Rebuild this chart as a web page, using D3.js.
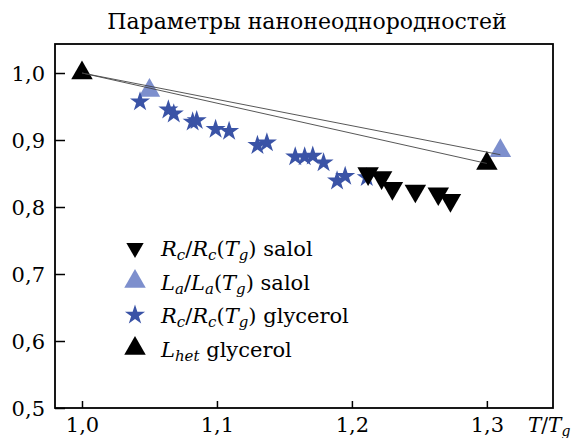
<!DOCTYPE html>
<html>
<head>
<meta charset="utf-8">
<script src="https://cdn.jsdelivr.net/npm/d3@7"></script>
<style>
  body { margin: 0; background: #fff; }
  svg text { font-family: "DejaVu Serif", "Times New Roman", serif; fill: #000; }
</style>
</head>
<body>
<div id="chart"></div>
<script>
var salolRcX = [1.212, 1.222, 1.230, 1.247, 1.264, 1.273];
var salolRcY = [0.850, 0.844, 0.828, 0.824, 0.820, 0.810];

var salolLaX = [1.05, 1.31];
var salolLaY = [0.974, 0.884];

var glyRcX = [1.043, 1.064, 1.068, 1.082, 1.085, 1.099, 1.109, 1.130, 1.137,
              1.158, 1.165, 1.171, 1.179, 1.189, 1.195, 1.211];
var glyRcY = [0.957, 0.945, 0.939, 0.927, 0.929, 0.916, 0.913, 0.892, 0.896,
              0.875, 0.875, 0.876, 0.866, 0.839, 0.846, 0.844];

var lhetX = [1.0, 1.3];
var lhetY = [1.0, 0.865];

// two straight guide lines from the origin point
var fitLines = [
  [[1.0, 1.0], [1.3, 0.865]],
  [[1.0, 1.0], [1.31, 0.878]]
];

var xTicks = [1.0, 1.1, 1.2, 1.3];
var yTicks = [0.5, 0.6, 0.7, 0.8, 0.9, 1.0];

var svgWidth = 584;
var svgHeight = 438;
var margin = { top: 44, right: 31, bottom: 30, left: 55 };
var width = svgWidth - margin.left - margin.right;
var height = svgHeight - margin.top - margin.bottom;

var darkBlue = "#3a53a6";
var lightBlue = "#7d8fcd";

var svg = d3.select("#chart")
  .append("svg")
  .attr("width", svgWidth)
  .attr("height", svgHeight);

svg.append("text")
  .attr("x", 307)
  .attr("y", 29)
  .attr("text-anchor", "middle")
  .attr("font-size", "22px")
  .text("Параметры нанонеоднородностей");

var chartGroup = svg.append("g")
  .attr("transform", `translate(${margin.left}, ${margin.top})`);

var x = d3.scaleLinear().domain([0.98, 1.349]).range([0, width]);
var y = d3.scaleLinear().domain([0.5, 1.0433]).range([height, 0]);

var comma = d => d3.format(".1f")(d).replace(".", ",");

var xAxis = chartGroup.append("g")
  .attr("transform", `translate(0, ${height})`)
  .call(d3.axisBottom(x).tickValues(xTicks).tickSize(-7).tickPadding(24).tickFormat(comma));

var yAxis = chartGroup.append("g")
  .call(d3.axisLeft(y).tickValues(yTicks).tickSize(-10).tickPadding(10).tickFormat(comma));

[xAxis, yAxis].forEach(function(ax) {
  ax.attr("font-family", null);
  ax.select(".domain").remove();
  ax.selectAll("line").attr("stroke", "#000").attr("stroke-width", 1.5);
  ax.selectAll("text").attr("font-size", "21px");
});
yAxis.selectAll("text").attr("dy", "0.36em");
xAxis.selectAll("text").attr("dy", 0);

// frame
chartGroup.append("rect")
  .attr("width", width)
  .attr("height", height)
  .attr("fill", "none")
  .attr("stroke", "#000")
  .attr("stroke-width", 1.8);

// x axis label
var xl = svg.append("text")
  .attr("x", 528)
  .attr("y", 432)
  .attr("font-size", "20px");
xl.append("tspan").attr("font-style", "italic").text("T");
xl.append("tspan").text("/");
xl.append("tspan").attr("font-style", "italic").text("T");
xl.append("tspan").attr("font-style", "italic").attr("font-size", "14px").attr("dy", 4).text("g");

var triUp = d3.symbol().type(d3.symbolTriangle).size(200);
var star = d3.symbol().type(d3.symbolStar).size(125);

function zip(xs, ys) {
  return xs.map((v, i) => ({ x: v, y: ys[i] }));
}

chartGroup.selectAll(".lhet")
  .data(zip(lhetX, lhetY))
  .enter()
  .append("path")
  .attr("d", triUp)
  .attr("transform", d => `translate(${x(d.x)}, ${y(d.y)})`)
  .attr("fill", "#000");

chartGroup.selectAll(".la")
  .data(zip(salolLaX, salolLaY))
  .enter()
  .append("path")
  .attr("d", triUp)
  .attr("transform", d => `translate(${x(d.x)}, ${y(d.y)})`)
  .attr("fill", lightBlue);

chartGroup.selectAll(".star")
  .data(zip(glyRcX, glyRcY))
  .enter()
  .append("path")
  .attr("d", star)
  .attr("transform", d => `translate(${x(d.x)}, ${y(d.y)})`)
  .attr("fill", darkBlue);

chartGroup.selectAll(".rc")
  .data(zip(salolRcX, salolRcY))
  .enter()
  .append("path")
  .attr("d", triUp)
  .attr("transform", d => `translate(${x(d.x)}, ${y(d.y)}) rotate(180)`)
  .attr("fill", "#000");

var line = d3.line().x(d => x(d[0])).y(d => y(d[1]));
chartGroup.selectAll(".fit")
  .data(fitLines)
  .enter()
  .append("path")
  .attr("d", line)
  .attr("fill", "none")
  .attr("stroke", "#444")
  .attr("stroke-width", 0.9);

// legend
var legend = [
  { sym: "down", fill: "#000", a: "R", as: "c", tail: "salol" },
  { sym: "up", fill: lightBlue, a: "L", as: "a", tail: "salol" },
  { sym: "star", fill: darkBlue, a: "R", as: "c", tail: "glycerol" },
  { sym: "het", fill: "#000", a: "L", as: "het", tail: "glycerol" }
];

var legendGroup = svg.append("g");
legend.forEach(function(item, i) {
  var ly = 248 + i * 33.5;
  var path = legendGroup.append("path")
    .attr("fill", item.fill);
  if (item.sym === "star") {
    path.attr("d", star).attr("transform", `translate(135, ${ly})`);
  } else if (item.sym === "down") {
    path.attr("d", d3.symbol().type(d3.symbolTriangle).size(130))
      .attr("transform", `translate(135, ${ly}) rotate(180)`);
  } else {
    path.attr("d", d3.symbol().type(d3.symbolTriangle).size(200))
      .attr("transform", `translate(135, ${ly})`);
  }

  var t = legendGroup.append("text")
    .attr("x", 161)
    .attr("y", ly + 8)
    .attr("font-size", "21px");
  t.append("tspan").attr("font-style", "italic").text(item.a);
  t.append("tspan").attr("font-style", "italic").attr("font-size", "15px").attr("dy", 4).text(item.as);
  if (item.sym !== "het") {
    t.append("tspan").attr("dy", -4).text("/");
    t.append("tspan").attr("font-style", "italic").text(item.a);
    t.append("tspan").attr("font-style", "italic").attr("font-size", "15px").attr("dy", 4).text(item.as);
    t.append("tspan").attr("dy", -4).text("(");
    t.append("tspan").attr("font-style", "italic").text("T");
    t.append("tspan").attr("font-style", "italic").attr("font-size", "15px").attr("dy", 4).text("g");
    t.append("tspan").attr("dy", -4).text(")");
    t.append("tspan").text(" " + item.tail);
  } else {
    t.append("tspan").attr("dy", -4).text(" " + item.tail);
  }
});
</script>
</body>
</html>
